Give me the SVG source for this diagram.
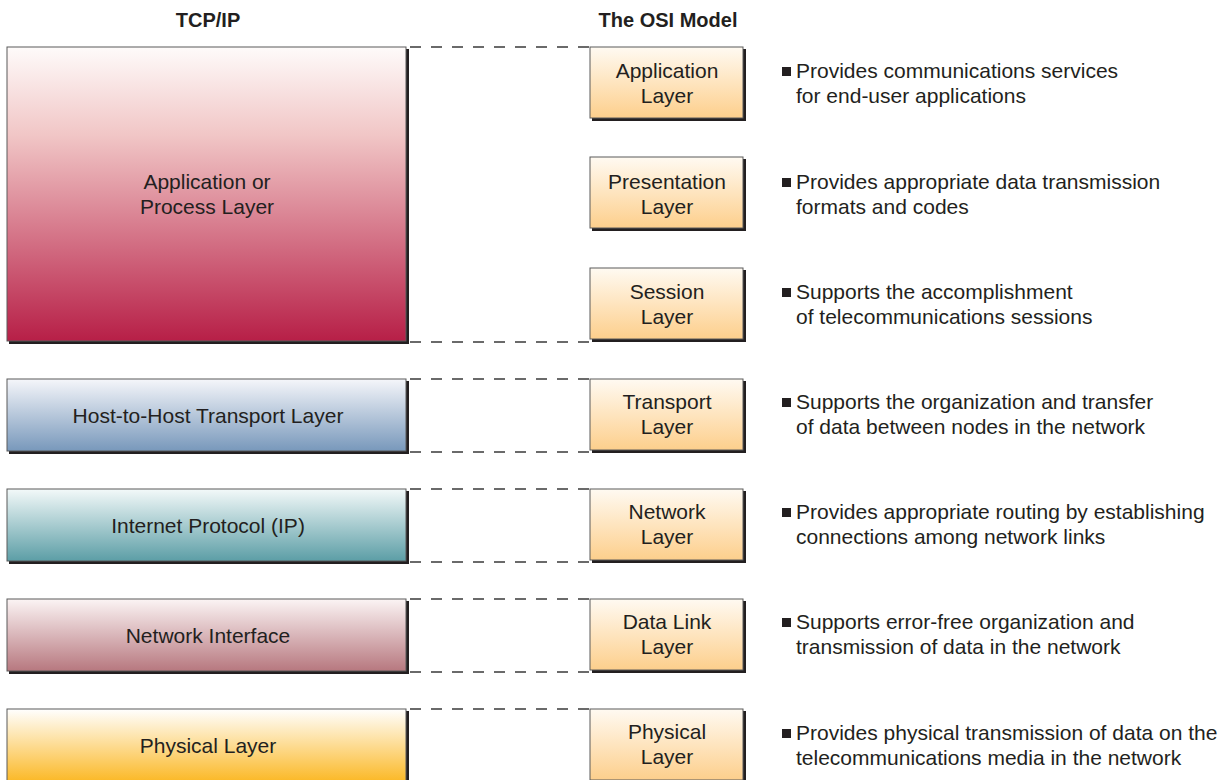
<svg xmlns="http://www.w3.org/2000/svg" width="1230" height="780" viewBox="0 0 1230 780">
<style>
.t{font-family:"Liberation Sans",Arial,sans-serif;font-size:21px;fill:#231f20}
.c{text-anchor:middle}
.h{font-family:"Liberation Sans",Arial,sans-serif;font-size:20px;font-weight:bold;fill:#231f20;text-anchor:middle}
.sh{fill:#231f20}
.bx{stroke:#5a5a5a;stroke-width:1}
.dash{stroke:#3a3a3a;stroke-width:1.5;stroke-dasharray:11 10;fill:none}
</style>
<defs>
<linearGradient id="gApp" x1="0" y1="0" x2="0" y2="1"><stop offset="0" stop-color="#fefbfa"/><stop offset="0.3" stop-color="#f1c6c6"/><stop offset="1" stop-color="#b71f47"/></linearGradient>
<linearGradient id="gHost" x1="0" y1="0" x2="0" y2="1"><stop offset="0" stop-color="#f5f6fa"/><stop offset="1" stop-color="#7898bb"/></linearGradient>
<linearGradient id="gIP" x1="0" y1="0" x2="0" y2="1"><stop offset="0" stop-color="#f3f9f9"/><stop offset="1" stop-color="#5c9ea6"/></linearGradient>
<linearGradient id="gNI" x1="0" y1="0" x2="0" y2="1"><stop offset="0" stop-color="#fbf4f4"/><stop offset="1" stop-color="#b7787f"/></linearGradient>
<linearGradient id="gPhy" x1="0" y1="0" x2="0" y2="1"><stop offset="0" stop-color="#ffffff"/><stop offset="1" stop-color="#fbb928"/></linearGradient>
<linearGradient id="gOSI" x1="0" y1="0" x2="0" y2="1"><stop offset="0" stop-color="#fffaf2"/><stop offset="1" stop-color="#fdcf8c"/></linearGradient>
</defs>
<rect width="1230" height="780" fill="#ffffff"/>
<text class="h" x="208" y="27">TCP/IP</text>
<text class="h" x="668" y="27">The OSI Model</text>

<g id="connectors">
<line class="dash" x1="410" y1="47" x2="590" y2="47"/>
<line class="dash" x1="410" y1="342" x2="590" y2="342"/>
<line class="dash" x1="410" y1="379" x2="590" y2="379"/>
<line class="dash" x1="410" y1="452" x2="590" y2="452"/>
<line class="dash" x1="410" y1="489" x2="590" y2="489"/>
<line class="dash" x1="410" y1="562" x2="590" y2="562"/>
<line class="dash" x1="410" y1="599" x2="590" y2="599"/>
<line class="dash" x1="410" y1="672" x2="590" y2="672"/>
<line class="dash" x1="410" y1="709" x2="590" y2="709"/>
</g>

<g id="tcp-app">
<rect class="sh" x="9" y="49" width="400" height="295"/>
<rect class="bx" x="7" y="47" width="399" height="294" fill="url(#gApp)"/>
<text class="t c" x="207" y="189">Application or</text>
<text class="t c" x="207" y="214">Process Layer</text>
</g>
<g id="tcp-host">
<rect class="sh" x="9" y="381" width="400" height="73"/>
<rect class="bx" x="7" y="379" width="399" height="72" fill="url(#gHost)"/>
<text class="t c" x="208" y="423">Host-to-Host Transport Layer</text>
</g>
<g id="tcp-ip">
<rect class="sh" x="9" y="491" width="400" height="73"/>
<rect class="bx" x="7" y="489" width="399" height="72" fill="url(#gIP)"/>
<text class="t c" x="208" y="533">Internet Protocol (IP)</text>
</g>
<g id="tcp-ni">
<rect class="sh" x="9" y="601" width="400" height="73"/>
<rect class="bx" x="7" y="599" width="399" height="72" fill="url(#gNI)"/>
<text class="t c" x="208" y="643">Network Interface</text>
</g>
<g id="tcp-phy">
<rect class="sh" x="9" y="711" width="400" height="73"/>
<rect class="bx" x="7" y="709" width="399" height="72" fill="url(#gPhy)"/>
<text class="t c" x="208" y="753">Physical Layer</text>
</g>

<g id="osi-app">
<rect class="sh" x="592" y="49" width="154" height="72"/>
<rect class="bx" x="590" y="47" width="153" height="71" fill="url(#gOSI)"/>
<text class="t c" x="667" y="78">Application</text>
<text class="t c" x="667" y="103">Layer</text>
</g>
<g id="osi-pres">
<rect class="sh" x="592" y="159" width="154" height="72"/>
<rect class="bx" x="590" y="157" width="153" height="71" fill="url(#gOSI)"/>
<text class="t c" x="667" y="189">Presentation</text>
<text class="t c" x="667" y="214">Layer</text>
</g>
<g id="osi-sess">
<rect class="sh" x="592" y="270" width="154" height="72"/>
<rect class="bx" x="590" y="268" width="153" height="71" fill="url(#gOSI)"/>
<text class="t c" x="667" y="299">Session</text>
<text class="t c" x="667" y="324">Layer</text>
</g>
<g id="osi-trans">
<rect class="sh" x="592" y="381" width="154" height="72"/>
<rect class="bx" x="590" y="379" width="153" height="71" fill="url(#gOSI)"/>
<text class="t c" x="667" y="409">Transport</text>
<text class="t c" x="667" y="434">Layer</text>
</g>
<g id="osi-net">
<rect class="sh" x="592" y="491" width="154" height="72"/>
<rect class="bx" x="590" y="489" width="153" height="71" fill="url(#gOSI)"/>
<text class="t c" x="667" y="519">Network</text>
<text class="t c" x="667" y="544">Layer</text>
</g>
<g id="osi-dl">
<rect class="sh" x="592" y="601" width="154" height="72"/>
<rect class="bx" x="590" y="599" width="153" height="71" fill="url(#gOSI)"/>
<text class="t c" x="667" y="629">Data Link</text>
<text class="t c" x="667" y="654">Layer</text>
</g>
<g id="osi-phy">
<rect class="sh" x="592" y="711" width="154" height="72"/>
<rect class="bx" x="590" y="709" width="153" height="71" fill="url(#gOSI)"/>
<text class="t c" x="667" y="739">Physical</text>
<text class="t c" x="667" y="764">Layer</text>
</g>

<g id="descriptions">
<rect x="782" y="67" width="9" height="9" fill="#231f20"/>
<text class="t" x="796" y="78">Provides communications services</text>
<text class="t" x="796" y="103">for end-user applications</text>
<rect x="782" y="178" width="9" height="9" fill="#231f20"/>
<text class="t" x="796" y="189">Provides appropriate data transmission</text>
<text class="t" x="796" y="214">formats and codes</text>
<rect x="782" y="288" width="9" height="9" fill="#231f20"/>
<text class="t" x="796" y="299">Supports the accomplishment</text>
<text class="t" x="796" y="324">of telecommunications sessions</text>
<rect x="782" y="398" width="9" height="9" fill="#231f20"/>
<text class="t" x="796" y="409">Supports the organization and transfer</text>
<text class="t" x="796" y="434">of data between nodes in the network</text>
<rect x="782" y="508" width="9" height="9" fill="#231f20"/>
<text class="t" x="796" y="519">Provides appropriate routing by establishing</text>
<text class="t" x="796" y="544">connections among network links</text>
<rect x="782" y="618" width="9" height="9" fill="#231f20"/>
<text class="t" x="796" y="629">Supports error-free organization and</text>
<text class="t" x="796" y="654">transmission of data in the network</text>
<rect x="782" y="729" width="9" height="9" fill="#231f20"/>
<text class="t" x="796" y="740">Provides physical transmission of data on the</text>
<text class="t" x="796" y="765">telecommunications media in the network</text>
</g>
</svg>
